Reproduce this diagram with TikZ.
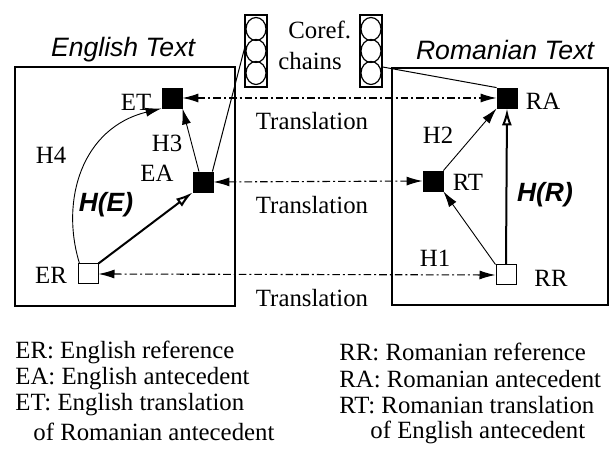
\documentclass[tikz,border=0pt]{standalone}
\usepackage{fontspec}
\setmainfont{Liberation Serif}
\newfontfamily\hv{Liberation Sans}
\usetikzlibrary{arrows.meta,calc}
\begin{document}
\begin{tikzpicture}[x=0.5pt,y=-0.5pt,
  blk/.style={draw,fill=black,minimum size=10pt,inner sep=0pt},
  wht/.style={draw,fill=white,minimum size=10pt,inner sep=0pt,line width=0.5pt},
  lbl/.style={inner sep=0pt,font=\fontsize{12.4}{14}\selectfont},
  ttl/.style={inner sep=0pt,font=\hv\itshape\fontsize{13.3}{15}\selectfont},
  hb/.style={inner sep=0pt,font=\hv\bfseries\itshape\fontsize{13.2}{15}\selectfont},
  leg/.style={inner sep=0pt,anchor=west,font=\fontsize{12.4}{14}\selectfont},
  trans/.style={line width=0.55pt,dash pattern=on 3.8pt off 1.5pt on 1pt off 1.5pt,
     {Latex[length=8pt,width=4.5pt]}-{Latex[length=8pt,width=4.5pt]}},
  harr/.style={line width=0.45pt,-{Latex[length=8pt,width=4.5pt]}},
  thick arr/.style={line width=1pt,-{Latex[open,fill=white,length=8.5pt,width=5pt]}},
  chain/.style={draw,line width=0.6pt,inner sep=0pt,minimum width=11pt,minimum height=36pt},
  ring/.style={line width=0.6pt}
]
\useasboundingbox (0,0) rectangle (611,453);
% boxes
\draw[line width=0.6pt] (15,67) rectangle (235,306);
\draw[line width=0.6pt] (392,68) rectangle (608,305);
\node[ttl] (etitle) at (123,50) {English Text};
\node[ttl] (rtitle) at (505,50) {Romanian Text};
% coref chains
\node[chain] (cl) at (256,51) {};
\node[chain] (cr) at (371,51) {};
\foreach \c in {cl,cr}{
  \draw[ring] (\c.center) ellipse (10 and 11.5);
  \draw[ring] ($(\c.center)+(0,-22)$) ellipse (10 and 11.5);
  \draw[ring] ($(\c.center)+(0,22)$) ellipse (10 and 11.5);
}
\node[lbl,anchor=west] (coref) at (288,30) {Coref.};
\node[lbl,anchor=west] (chains) at (278,61) {chains};
% nodes
\node[blk] (ET) at (172,98) {};
\node[blk] (EA) at (203,182) {};
\node[wht] (ER) at (88,274) {};
\node[blk] (RA) at (507,98) {};
\node[blk] (RT) at (433,181) {};
\node[wht] (RR) at (506,275) {};
% labels
\node[lbl] (lET) at (136,102) {ET};
\node[lbl] (lEA) at (157,173) {EA};
\node[lbl] (lER) at (51,275) {ER};
\node[lbl] (lRA) at (543,101) {RA};
\node[lbl] (lRT) at (468,182) {RT};
\node[lbl] (lRR) at (551,278) {RR};
\node[lbl] (lH4) at (51,155) {H4};
\node[lbl] (lH3) at (167,143) {H3};
\node[lbl] (lH2) at (438,135) {H2};
\node[lbl] (lH1) at (435,258) {H1};
\node[hb] (lHE) at (106,205) {H(E)};
\node[hb] (lHR) at (545,195) {H(R)};
% translation
\draw[trans] (ET.east) -- (RA.west);
\draw[trans] (EA.east) -- (RT.west);
\draw[trans] (ER.east) -- (RR.west);
\node[lbl] (t1) at (312,121) {Translation};
\node[lbl] (t2) at (312,205) {Translation};
\node[lbl] (t3) at (312,298) {Translation};
% relations
\draw[harr] ($(ER.north west)+(2,0)$) .. controls (60,200) and (82,128) .. (ET.south west);
\draw[harr] ($(EA.north)+(-4,0)$) -- (ET.south east);
\draw[thick arr] (ER.north east) -- (EA.south west);
\draw[line width=0.5pt] ($(cl.west)+(1,-6)$) -- ($(EA.north east)+(-1,0)$);
\draw[line width=0.5pt] ($(cr.east)+(0,16)$) -- (RA.north west);
\draw[harr] (RT.north east) -- (RA.south west);
\draw[harr] (RR.north west) -- (RT.south east);
\draw[thick arr] (RR.north) -- (RA.south);
% legend
\node[leg] (l1) at (15,352) {ER: English reference};
\node[leg] (l2) at (15,379) {EA: English antecedent};
\node[leg] (l3) at (15,405) {ET: English translation};
\node[leg] (l4) at (33,432) {of Romanian antecedent};
\node[leg] (r1) at (339,352) {RR: Romanian reference};
\node[leg] (r2) at (339,379) {RA: Romanian antecedent};
\node[leg] (r3) at (339,405) {RT: Romanian translation};
\node[leg] (r4) at (370,432) {of English antecedent};
\end{tikzpicture}
\end{document}
